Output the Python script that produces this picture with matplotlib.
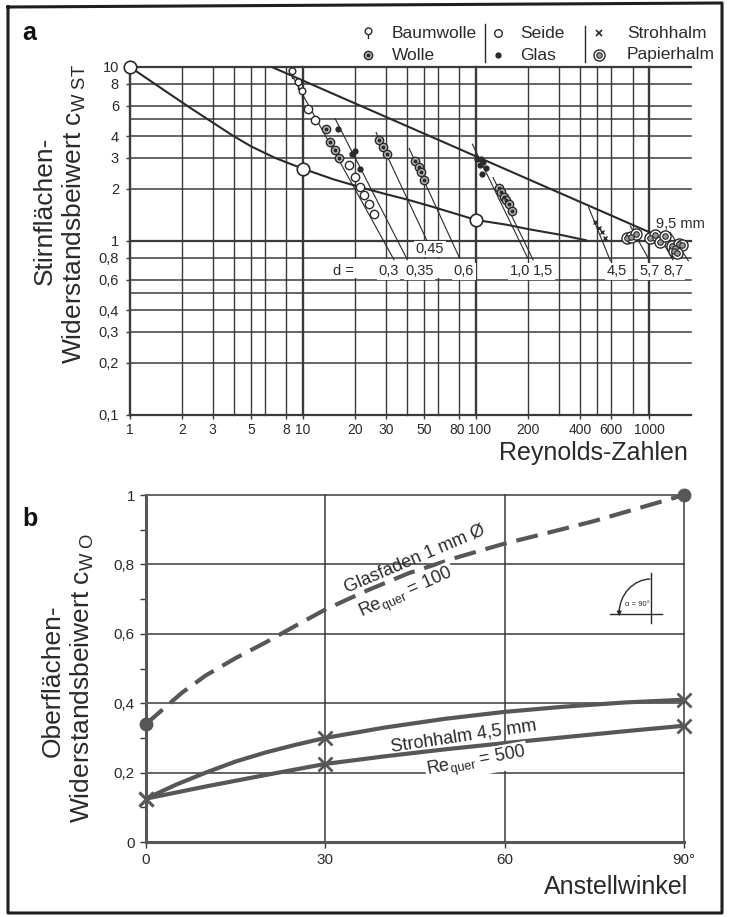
import numpy as np
import matplotlib.pyplot as plt
import matplotlib.transforms as mtransforms
from matplotlib.path import Path
from matplotlib.patches import Arc, Rectangle
from matplotlib.ticker import NullLocator

plt.rcParams['font.family'] = ['Liberation Sans', 'DejaVu Sans']
plt.rcParams['mathtext.fontset'] = 'custom'
plt.rcParams['mathtext.rm'] = 'Liberation Sans'
plt.rcParams['mathtext.it'] = 'Liberation Sans:italic'

INK = '#2a2a2a'
GRID = '#3a3a3a'
GRAY = '#575757'

# ---------------- panel a: Stirnflaechen-Widerstandsbeiwert ----------------
# reference curve with open circles
lower_re = [1, 1.5, 2.13, 3, 3.9, 5, 6.9, 10, 15, 22.9, 30, 40, 55, 70, 100, 150, 200, 300, 430]
lower_cw = [10, 7.6, 6.0, 4.8, 4.05, 3.5, 3.0, 2.6, 2.26, 2.0, 1.86, 1.73, 1.58, 1.47,
            1.32, 1.24, 1.17, 1.09, 1.01]
circle_re = [1, 10, 100]
circle_cw = [10, 2.6, 1.32]
# straight upper line
upper_re = [6.6, 1050]
upper_cw = [10, 1.10]

baumwolle_re = [8.6, 9.3, 9.8]
baumwolle_cw = [9.2, 8.0, 7.05]
seide_re = [10.7, 11.7, 18.3, 20.0, 21.4, 22.5, 23.9, 25.7]
seide_cw = [5.77, 4.94, 2.75, 2.32, 2.05, 1.85, 1.64, 1.43]
wolle_re = [13.6, 14.3, 15.3, 16.2, 27.6, 29.1, 30.5, 44.4, 46.4, 47.9, 50.0,
            134.6, 139.6, 143.9, 149.0, 153.7, 160.8]
wolle_cw = [4.43, 3.7, 3.34, 3.0, 3.82, 3.46, 3.17, 2.87, 2.65, 2.48, 2.25,
            2.02, 1.90, 1.80, 1.72, 1.63, 1.49]
glas_re = [16.0, 19.2, 20.0, 21.2, 101, 107, 110, 105, 114, 108]
glas_cw = [4.4, 3.15, 3.3, 2.6, 2.97, 2.97, 2.84, 2.72, 2.63, 2.43]
stroh_re = [487, 510, 532, 557]
stroh_cw = [1.28, 1.19, 1.12, 1.045]
papier_re = [743, 787, 833, 1013, 1083, 1148, 1237, 1352, 1413, 1479, 1545, 1383, 1445]
papier_cw = [1.045, 1.06, 1.10, 1.045, 1.08, 0.99, 1.07, 0.935, 0.914, 0.957, 0.95, 0.875, 0.855]

# diameter leader lines (start -> end) and their labels
d_start_re = [8.3, 15.3, 26.4, 41, 95, 125, 446, 776, 1107, 1320]
d_start_cw = [9.6, 5.05, 4.2, 3.4, 3.6, 2.32, 1.56, 1.22, 1.12, 1.12]
d_end_re = [33.5, 40, 52.8, 80, 198, 213, 595, 990, 1370, 1680]
d_end_cw = [0.78, 0.78, 0.97, 0.80, 0.80, 0.78, 0.77, 0.79, 0.78, 0.77]
d_labels = ['0,3', '0,35', '0,45', '0,6', '1,0', '1,5', '4,5', '5,7', '8,7']
d_label_re = [31, 47, 54, 85, 179, 243, 645, 1000, 1384]
d_label_cw = [0.67, 0.67, 0.9, 0.67, 0.67, 0.67, 0.67, 0.67, 0.67]

x_ticks_a = [1, 2, 3, 5, 8, 10, 20, 30, 50, 80, 100, 200, 400, 600, 1000]
y_ticks_a = [0.1, 0.2, 0.3, 0.4, 0.6, 0.8, 1, 2, 3, 4, 6, 8, 10]
grid_x_a = [1, 2, 3, 4, 5, 6, 8, 10, 20, 30, 40, 50, 60, 80,
            100, 200, 300, 400, 500, 600, 800, 1000]
grid_y_a = [0.1, 0.2, 0.3, 0.4, 0.5, 0.6, 0.8, 1, 2, 3, 4, 5, 6, 8, 10]

# ---------------- panel b: Oberflaechen-Widerstandsbeiwert ----------------
glas_angle = [0, 3, 6, 10, 15, 20, 25, 30, 37, 44, 52, 60, 67, 75, 82, 90]
glas_cwo = [0.34, 0.385, 0.43, 0.48, 0.53, 0.575, 0.623, 0.67, 0.725, 0.775,
            0.82, 0.86, 0.89, 0.925, 0.96, 1.0]
stroh_up_angle = [0, 5, 10, 15, 20, 25, 30, 40, 50, 60, 70, 80, 90]
stroh_up_cwo = [0.125, 0.165, 0.20, 0.232, 0.258, 0.28, 0.30, 0.33, 0.355, 0.375, 0.39, 0.402, 0.41]
stroh_lo_angle = [0, 10, 20, 30, 40, 50, 60, 70, 80, 90]
stroh_lo_cwo = [0.125, 0.16, 0.193, 0.225, 0.247, 0.267, 0.285, 0.302, 0.319, 0.335]
stroh_mark_angle = [0, 30, 90]
stroh_up_mark = [0.125, 0.30, 0.41]
stroh_lo_mark = [0.125, 0.225, 0.335]


def de(v):
    return f'{v:g}'.replace('.', ',')


W, H = 729, 917
fig = plt.figure(figsize=(W / 100, H / 100), dpi=100)


def px_axes(left, top, right, bottom):
    return fig.add_axes([left / W, 1 - bottom / H, (right - left) / W, (bottom - top) / H])


# ======================= panel a =======================
ax = px_axes(130, 67, 691, 415)
ax.set_xscale('log')
ax.set_yscale('log')
ax.set_xlim(1, 1740)
ax.set_ylim(0.1, 10)
for s in ax.spines.values():
    s.set_visible(False)

for gx in grid_x_a:
    ax.axvline(gx, color=GRID, lw=1.7 if gx in (1, 10, 100, 1000) else 1.0, zorder=1, clip_on=False)
for gy in grid_y_a:
    ax.axhline(gy, color=GRID, lw=1.6 if gy in (0.1, 1, 10) else 1.1, zorder=1, clip_on=False)

ax.set_xticks(x_ticks_a, [de(v) for v in x_ticks_a])
ax.set_yticks(y_ticks_a, [de(v) for v in y_ticks_a])
ax.xaxis.set_minor_locator(NullLocator())
ax.yaxis.set_minor_locator(NullLocator())
ax.tick_params(length=3, width=1, color=GRID, labelsize=10, labelcolor=INK)
ax.tick_params(axis='x', pad=3)
ax.tick_params(axis='y', pad=5, labelsize=10.5)

# nudge the crowded "80" / "100" labels apart a little
for lab in ax.get_xticklabels():
    shift = {'80': -2.0, '100': 2.5}.get(lab.get_text(), 0)
    if shift:
        lab.set_transform(lab.get_transform()
                          + mtransforms.ScaledTranslation(shift / 72, 0, fig.dpi_scale_trans))

# white band behind the diameter labels
ax.add_patch(Rectangle((15, 0.615), 80, 0.168, facecolor='white', edgecolor='none', zorder=2))

ax.plot(lower_re, lower_cw, color=INK, lw=1.5, zorder=3)
ax.plot(upper_re, upper_cw, color=INK, lw=1.5, zorder=3)
ax.plot(circle_re, circle_cw, 'o', ms=9, mfc='white', mec=INK, mew=1.2, zorder=5, clip_on=False)

for x0, y0, x1, y1 in zip(d_start_re, d_start_cw, d_end_re, d_end_cw):
    ax.plot([x0, x1], [y0, y1], color=INK, lw=0.8, zorder=3)

bw_marker = Path.make_compound_path(Path.circle((0, 0.4), 0.6),
                                    Path([(0, -0.2), (0, -1.0)], [Path.MOVETO, Path.LINETO]))

ax.plot(baumwolle_re, baumwolle_cw, ls='none', marker=bw_marker, ms=8, mfc='white', mec=INK, mew=1, zorder=5)
ax.plot(seide_re, seide_cw, 'o', ms=6, mfc='white', mec=INK, mew=1, zorder=5)
ax.plot(wolle_re, wolle_cw, 'o', ms=6, mfc='#b5b5b5', mec=INK, mew=1, zorder=5)
ax.plot(wolle_re, wolle_cw, 'o', ms=1.8, color=INK, zorder=6)
ax.plot(glas_re, glas_cw, 'o', ms=3.5, color=INK, zorder=5)
ax.plot(stroh_re, stroh_cw, 'x', ms=3.5, mew=1, color=INK, zorder=5)
ax.plot(papier_re, papier_cw, 'o', ms=8, mfc='white', mec=INK, mew=1, zorder=5)
ax.plot(papier_re, papier_cw, 'o', ms=4, mfc='#999999', mec=INK, mew=0.8, zorder=6)

for lab, lx, ly in zip(d_labels, d_label_re, d_label_cw):
    ax.text(lx, ly, lab, ha='center', va='center', fontsize=10.5, color=INK, zorder=7,
            bbox=dict(facecolor='white', edgecolor='none', pad=1))
ax.text(17.1, 0.67, 'd =', ha='center', va='center', fontsize=10.5, color=INK, zorder=7)
ax.text(1510, 1.25, '9,5 mm', ha='center', va='center', fontsize=10.5, color=INK, zorder=7)

# ======================= panel b =======================
axb = px_axes(146, 495, 684, 842)
axb.set_xlim(0, 90)
axb.set_ylim(0, 1)
for side in ('top', 'right'):
    axb.spines[side].set_visible(False)
axb.spines['left'].set_linewidth(2.2)
axb.spines['bottom'].set_linewidth(2.2)
axb.spines['left'].set_color(GRAY)
axb.spines['bottom'].set_color(GRAY)
for gy in [0.2, 0.4, 0.6, 0.8, 1.0]:
    axb.axhline(gy, color=GRID, lw=1.1, zorder=1, clip_on=False)
for gx in [30, 60, 90]:
    axb.axvline(gx, color=GRID, lw=1.1, zorder=1, clip_on=False)

axb.set_yticks([0, 0.2, 0.4, 0.6, 0.8, 1.0], ['0', '0,2', '0,4', '0,6', '0,8', '1'])
axb.set_yticks([0.1, 0.3, 0.5, 0.7, 0.9], minor=True)
axb.set_xticks([0, 30, 60, 90], ['0', '30', '60', '90°'])
axb.tick_params(length=4, width=1, color=GRID, labelsize=11, labelcolor=INK)
axb.tick_params(axis='y', which='minor', length=4, width=1, color=GRID)
axb.tick_params(axis='y', pad=4)
axb.tick_params(axis='x', pad=4)

axb.plot(glas_angle, glas_cwo, color=GRAY, lw=3, ls=(0, (5.3, 2.4)), dash_capstyle='butt', zorder=3)
axb.plot([glas_angle[0], glas_angle[-1]], [glas_cwo[0], glas_cwo[-1]], 'o', ms=9,
         color=GRAY, zorder=4, clip_on=False)
axb.plot(stroh_up_angle, stroh_up_cwo, color=GRAY, lw=3, zorder=3, solid_capstyle='round')
axb.plot(stroh_lo_angle, stroh_lo_cwo, color=GRAY, lw=3, zorder=3, solid_capstyle='round')
axb.plot(stroh_mark_angle, stroh_up_mark, 'x', ms=10, mew=2, color=GRAY, zorder=4, clip_on=False)
axb.plot(stroh_mark_angle, stroh_lo_mark, 'x', ms=10, mew=2, color=GRAY, zorder=4, clip_on=False)

box = dict(facecolor='white', edgecolor='none', pad=1)
axb.text(45, 0.816, 'Glasfaden 1 mm Ø', rotation=23, ha='center', va='center',
         fontsize=13, color=INK, zorder=5, rotation_mode='anchor')
axb.text(43.6, 0.715, r'Re$_{\mathrm{quer}}$ = 100', rotation=24, ha='center', va='center',
         fontsize=13, color=INK, zorder=5, rotation_mode='anchor', bbox=box)
axb.text(53.2, 0.306, 'Strohhalm 4,5 mm', rotation=8.5, ha='center', va='center',
         fontsize=13, color=INK, zorder=5, rotation_mode='anchor')
axb.text(55.3, 0.228, r'Re$_{\mathrm{quer}}$ = 500', rotation=10.5, ha='center', va='center',
         fontsize=13, color=INK, zorder=5, rotation_mode='anchor', bbox=box)

# ======================= overlay: frame, legend, titles, angle sketch =======================
ov = fig.add_axes([0, 0, 1, 1])
ov.set_xlim(0, W)
ov.set_ylim(H, 0)
ov.axis('off')

ov.plot([8, 722, 722, 8, 8], [7, 3, 913, 913, 7], color='#1e1e1e', lw=2.2)

# small angle sketch (alpha = 90 deg) in panel b
ov.plot([651, 651], [573, 623], color=INK, lw=1)
ov.plot([610, 662], [614, 614], color=INK, lw=1)
ov.add_patch(Arc((651, 614), 64, 70, theta1=181, theta2=269, color=INK, lw=1))
ov.annotate('', xy=(619.2, 619), xytext=(619.2, 608),
            arrowprops=dict(arrowstyle='-|>', color=INK, lw=0.8, mutation_scale=7))
ov.text(637, 604, 'α = 90°', fontsize=5.5, ha='center', va='center', color=INK)

ov.text(22, 33, 'a', fontsize=18, fontweight='bold', ha='left', va='center', color='#111')
ov.text(22, 519, 'b', fontsize=18, fontweight='bold', ha='left', va='center', color='#111')

leg_fs = 12.5
ov.plot([368], [33], ls='none', marker=bw_marker, ms=8, mfc='white', mec=INK, mew=1)
ov.plot([368], [55], 'o', ms=6, mfc='#b5b5b5', mec=INK, mew=1)
ov.plot([368], [55], 'o', ms=1.8, color=INK)
ov.text(392, 33, 'Baumwolle', fontsize=leg_fs, va='center', color=INK)
ov.text(392, 55, 'Wolle', fontsize=leg_fs, va='center', color=INK)
ov.plot([485, 485], [24, 62], color=INK, lw=1)
ov.plot([498], [33], 'o', ms=5.5, mfc='white', mec=INK, mew=1)
ov.plot([498], [55], 'o', ms=3.5, color=INK)
ov.text(520, 33, 'Seide', fontsize=leg_fs, va='center', color=INK)
ov.text(520, 55, 'Glas', fontsize=leg_fs, va='center', color=INK)
ov.plot([585, 585], [26, 62], color=INK, lw=1)
ov.plot([599], [33], 'x', ms=4.5, mew=1.2, color=INK)
ov.plot([599], [55], 'o', ms=8, mfc='white', mec=INK, mew=1)
ov.plot([599], [55], 'o', ms=4, mfc='#999999', mec=INK, mew=0.8)
ov.text(627, 33, 'Strohhalm', fontsize=leg_fs, va='center', color=INK)
ov.text(627, 55, 'Papierhalm', fontsize=leg_fs, va='center', color=INK)

ov.text(45, 211, 'Stirnflächen-', rotation=90, fontsize=19, ha='center', va='center', color=INK)
ov.text(74, 214, r'Widerstandsbeiwert c$_{\mathrm{W\ ST}}$', rotation=90, fontsize=19,
        ha='center', va='center', color=INK)
ov.text(688, 453, 'Reynolds-Zahlen', fontsize=18, ha='right', va='center', color=INK)

ov.text(53, 681, 'Oberflächen-', rotation=90, fontsize=19, ha='center', va='center', color=INK)
ov.text(82, 678, r'Widerstandsbeiwert c$_{\mathrm{W\ O}}$', rotation=90, fontsize=19,
        ha='center', va='center', color=INK)
ov.text(688, 887, 'Anstellwinkel', fontsize=18, ha='right', va='center', color=INK)

fig.savefig('out.png', dpi=100)
